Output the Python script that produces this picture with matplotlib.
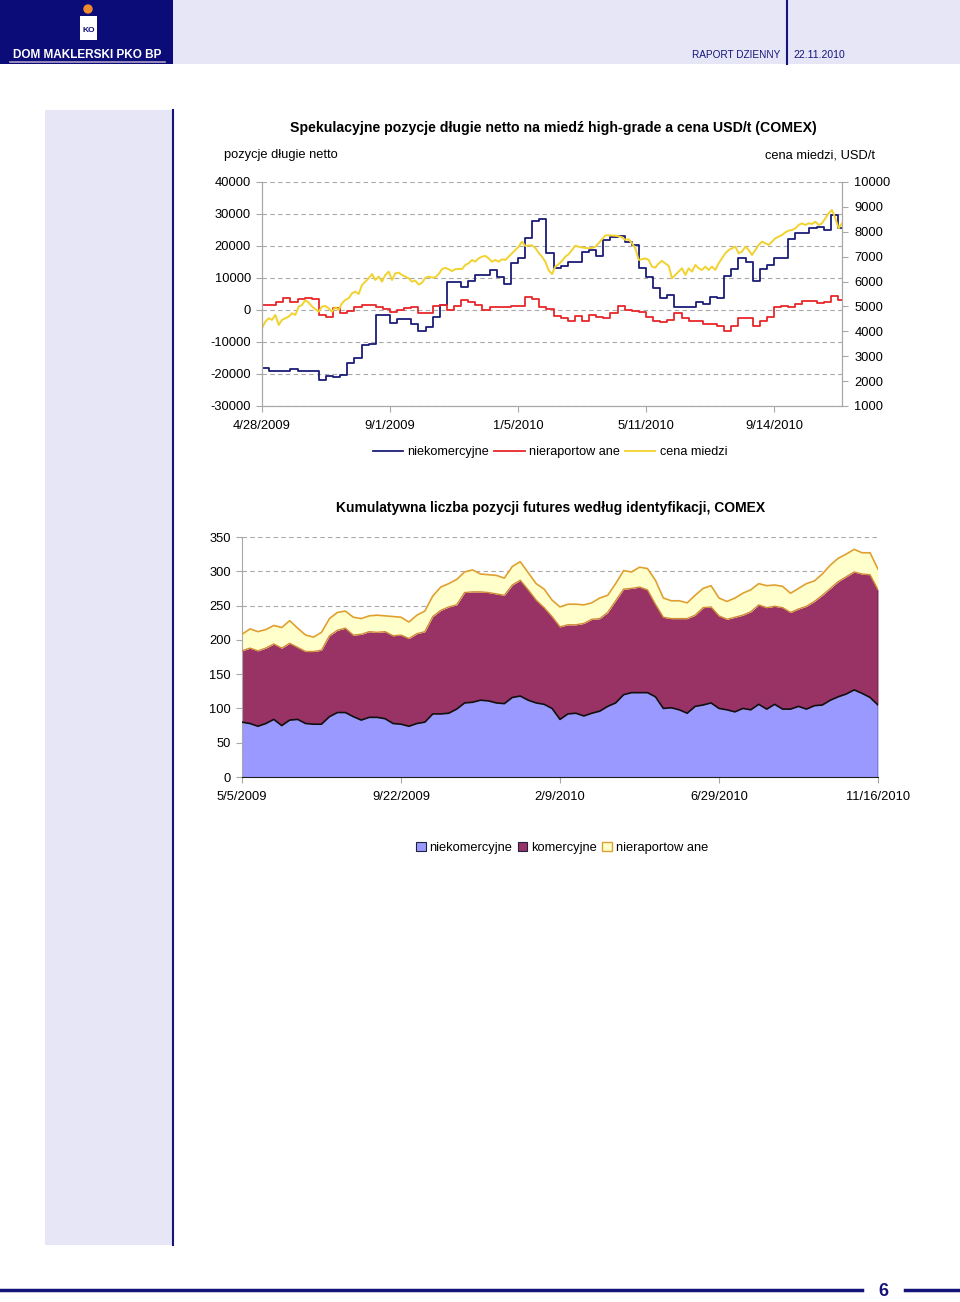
import matplotlib
matplotlib.use("Agg")
import matplotlib.pyplot as plt
import numpy as np
import pandas as pd
from matplotlib.lines import Line2D
from matplotlib.patches import Rectangle, Circle, Patch

plt.rcParams['font.family'] = ['Liberation Sans', 'DejaVu Sans']
plt.rcParams['axes.unicode_minus'] = False

# ---- chart 1: net long positions (weekly, from 28 Apr 2009) and copper price ----
week_start = "2009-04-28"
niekomercyjne_netto = [
    -18000, -19000, -19000, -19000, -18500, -19000, -19000, -19000, -21900, -20500,
    -21000, -20300, -16500, -14900, -11000, -10700, -1600, -1600, -4000, -2800,
    -2800, -4400, -6600, -5200, -2300, 1600, 8900, 8900, 7100, 9000,
    10800, 10800, 12400, 10200, 8100, 14600, 16100, 22400, 27900, 28300,
    17900, 13000, 13600, 15100, 15100, 18200, 18600, 17000, 21900, 22700,
    23100, 21400, 20300, 13000, 10200, 6800, 3600, 4700, 1000, 1000,
    1000, 2600, 1900, 4000, 3600, 10600, 12800, 16100, 15100, 9100,
    12700, 14100, 16100, 16400, 22100, 24000, 24000, 25500, 26000, 25000,
    29700, 25500]
nieraportowane_netto = [
    1600, 1600, 2600, 3600, 2600, 3300, 3600, 3300, -1600, -2100,
    500, -800, -300, 800, 1600, 1600, 800, 200, -500, 0,
    500, 1000, -800, -800, 1200, 1600, 0, 1200, 3100, 2600,
    1600, 0, 1000, 1000, 1000, 1200, 1200, 4200, 3300, 1000,
    200, -1900, -2600, -3300, -1900, -3300, -1600, -2300, -2600, -1000,
    1200, 0, -200, -500, -2100, -3300, -3800, -3100, -1000, -2600,
    -3300, -3300, -4400, -4400, -5000, -6600, -5000, -2600, -2600, -5000,
    -3300, -2100, 800, 1200, 1000, 1900, 2800, 2800, 2100, 2600,
    4500, 3100]
# copper price USD/t, about every 3 days from 28 Apr 2009 to 20 Nov 2010
price_end = "2010-11-20"
cena_miedzi = [
    4124, 4390, 4525, 4460, 4660, 4257, 4460, 4525, 4590, 4726,
    4660, 4993, 5060, 5250, 5150, 5000, 4890, 4790, 4993, 5020,
    4926, 4790, 4970, 4860, 5127, 5261, 5328, 5529, 5595, 5500,
    5863, 5997, 6131, 6300, 6064, 6198, 5997, 6265, 6400, 6064,
    6332, 6359, 6265, 6198, 6131, 5997, 6037, 5880, 5950, 6150,
    6200, 6160, 6170, 6300, 6500, 6550, 6500, 6420,
    6500, 6510, 6500, 6667, 6734, 6867, 6800, 6935, 7000, 7030,
    6935, 6800, 6867, 6800, 6895, 6867, 7000, 7135, 7269, 7403,
    7604, 7430, 7450, 7450, 7350, 7150, 7000, 6800, 6450, 6300,
    6600, 6700, 6830, 7000, 7100, 7270, 7440, 7400, 7370, 7350,
    7340, 7350, 7400, 7540, 7700, 7850, 7860, 7850, 7840, 7820,
    7780,
    7670, 7697, 7537, 7336, 6870, 6900, 6930, 6870, 6600, 6560,
    6730, 6830, 6730, 6630, 6131, 6265, 6398, 6533, 6265, 6533,
    6398, 6667, 6533, 6466, 6600, 6466, 6600, 6466, 6734, 6935,
    7135, 7269, 7336, 7403, 7135, 7202, 7403, 7269, 7067, 7269,
    7470, 7604, 7537, 7470, 7604, 7738, 7805, 7870, 7979, 8046,
    8072, 8139, 8273, 8340, 8273, 8340, 8313, 8407, 8273, 8340,
    8541, 8742, 8876, 8541, 8139, 8340]

# ---- chart 2: cumulative number of futures positions (weekly, from 5 May 2009) ----
stack_start = "2009-05-05"
niekomercyjne = [
    80, 78, 74, 78, 84, 75, 83, 84, 78, 77, 77, 88, 94, 94, 88, 83, 87, 87, 85, 78,
    77, 74, 78, 80, 92, 92, 93, 99, 108, 109, 112, 111, 108, 107, 116, 118, 112, 108, 106, 100,
    84, 92, 93, 89, 93, 96, 103, 108, 120, 123, 123, 123, 117, 100, 101, 98, 93, 103, 105, 108,
    100, 98, 95, 100, 98, 106, 99, 106, 99, 99, 103, 99, 104, 105, 112, 117, 121, 127, 122, 116,
    105]
komercyjne = [
    104, 110, 110, 110, 110, 113, 112, 105, 105, 106, 108, 118, 120, 123, 119, 125, 125, 124, 127, 128,
    130, 128, 131, 132, 142, 151, 155, 152, 161, 161, 158, 158, 159, 158, 164, 169, 161, 150, 141, 134,
    135, 130, 129, 135, 137, 135, 137, 149, 154, 152, 154, 150, 135, 133, 130, 133, 138, 133, 142, 140,
    135, 132, 138, 136, 143, 145, 148, 143, 148, 141, 142, 150, 152, 160, 163, 168, 171, 172, 174, 179,
    168]
nieraportowane = [
    24, 28, 28, 27, 27, 30, 33, 28, 24, 21, 26, 25, 26, 25, 26, 23, 23, 25, 23, 28,
    26, 24, 27, 30, 30, 34, 34, 37, 30, 32, 26, 26, 27, 25, 27, 27, 25, 24, 27, 24,
    29, 30, 30, 27, 24, 30, 25, 25, 27, 24, 29, 31, 35, 28, 26, 26, 23, 29, 28, 31,
    26, 26, 28, 32, 32, 31, 32, 31, 31, 28, 30, 33, 30, 31, 34, 34, 33, 33, 31, 32,
    30]

NAVY = '#14147a'
LAVENDER = '#e6e6f7'
GRID = '#a8a8a8'

fig = plt.figure(figsize=(9.6, 13.02), dpi=100)

# page decoration in pixel coordinates
bg = fig.add_axes([0, 0, 1, 1], zorder=-5)
bg.set_xlim(0, 960)
bg.set_ylim(1302, 0)
bg.axis('off')
bg.add_patch(Rectangle((0, 0), 960, 64, color=LAVENDER, lw=0))
bg.add_patch(Rectangle((0, 0), 173, 64, color='#0c0c78', lw=0))
bg.add_patch(Circle((88, 9), 4, color='#f08a30'))
bg.add_patch(Rectangle((80, 16), 17, 24, color='white', lw=0))
bg.text(88.5, 31, 'KO', color='#0c0c78', fontsize=6, fontweight='bold', ha='center', va='center')
bg.text(87, 55, 'DOM MAKLERSKI PKO BP', color='white', fontsize=8.5, fontweight='bold',
        ha='center', va='center')
bg.plot([10, 165], [62, 62], color='#b0a0c8', lw=1.2)
bg.plot([787, 787], [0, 64], color=NAVY, lw=1.5)
bg.text(780, 55, 'RAPORT DZIENNY', color=NAVY, fontsize=7.2, ha='right', va='center')
bg.text(793, 55, '22.11.2010', color=NAVY, fontsize=7.5, ha='left', va='center')
bg.add_patch(Rectangle((45, 110), 128, 1135, color=LAVENDER, lw=0))
bg.plot([173, 173], [110, 1245], color=NAVY, lw=1.5)
bg.plot([0, 862], [1290, 1290], color=NAVY, lw=2.5)
bg.plot([905, 960], [1290, 1290], color=NAVY, lw=2.5)
bg.text(883, 1291, '6', color=NAVY, fontsize=13, fontweight='bold', ha='center', va='center')


def date_label(d):
    return f"{d.month}/{d.day}/{d.year}"


# ---------------- chart 1 ----------------
ax1 = fig.add_axes([262 / 960, 1 - 406 / 1302, 580 / 960, 224 / 1302])
ax2 = ax1.twinx()

weeks = pd.date_range(week_start, periods=len(niekomercyjne_netto), freq='7D')
x_end = pd.Timestamp(price_end)
step_dates = list(weeks) + [x_end]
ax1.plot(step_dates, niekomercyjne_netto + [niekomercyjne_netto[-1]], drawstyle='steps-post',
         color='#1c1c78', lw=1.3)
ax1.plot(step_dates, nieraportowane_netto + [nieraportowane_netto[-1]], drawstyle='steps-post',
         color='#e8262b', lw=1.3)
price_dates = pd.date_range(week_start, price_end, periods=len(cena_miedzi))
ax2.plot(price_dates, cena_miedzi, color='#f2d22e', lw=1.4)

ax1.set_xlim(pd.Timestamp(week_start), x_end)
ax1.set_ylim(-30000, 40000)
ax1.set_yticks(range(-30000, 40001, 10000))
ax2.set_ylim(1000, 10000)
ax2.set_yticks(range(1000, 10001, 1000))
xt1 = pd.date_range(week_start, periods=5, freq='126D')
ax1.set_xticks(xt1)
ax1.set_xticklabels([date_label(d) for d in xt1])
ax1.yaxis.grid(True, color=GRID, ls=(0, (4, 3)), lw=0.8)
ax1.set_axisbelow(True)
for a in (ax1, ax2):
    for s in a.spines.values():
        s.set_color(GRID)
    a.spines['top'].set_visible(False)
    a.tick_params(colors=GRID, labelcolor='black', labelsize=9.3, length=4, width=0.8)
ax1.tick_params(axis='y', pad=4)
ax1.tick_params(axis='x', pad=6)
ax2.tick_params(axis='y', pad=5)

fig.text(553 / 960, 1 - 128 / 1302, 'Spekulacyjne pozycje długie netto na miedź high-grade a cena USD/t (COMEX)',
         ha='center', va='center', fontsize=10.2, fontweight='bold')
fig.text(224 / 960, 1 - 155 / 1302, 'pozycje długie netto', ha='left', va='center', fontsize=9.3)
fig.text(875 / 960, 1 - 156 / 1302, 'cena miedzi, USD/t', ha='right', va='center', fontsize=9.3)

h1 = [Line2D([], [], color='#1c1c78', lw=1.3),
      Line2D([], [], color='#e8262b', lw=1.3),
      Line2D([], [], color='#f2d22e', lw=1.3)]
fig.legend(h1, ['niekomercyjne', 'nieraportow ane', 'cena miedzi'], loc='center',
           bbox_to_anchor=(550 / 960, 1 - 452 / 1302), ncol=3, frameon=False, fontsize=9.1,
           handlelength=2.4, handletextpad=0.35, columnspacing=0.4)

# ---------------- chart 2 ----------------
ax3 = fig.add_axes([242 / 960, 1 - 777 / 1302, 636 / 960, 240 / 1302])
d2 = pd.date_range(stack_start, periods=len(niekomercyjne), freq='7D')
b = np.array(niekomercyjne, dtype=float)
k = b + np.array(komercyjne, dtype=float)
n = k + np.array(nieraportowane, dtype=float)
ax3.fill_between(d2, 0, b, color='#9999ff', lw=0, zorder=2)
ax3.fill_between(d2, b, k, color='#993366', lw=0, zorder=2)
ax3.fill_between(d2, k, n, color='#ffffcc', lw=0, zorder=2)
ax3.plot(d2, n, color='#e0a030', lw=1.2, zorder=3)
ax3.plot(d2, k, color='#d08a38', lw=1.0, zorder=3)
ax3.plot(d2, b, color='#101010', lw=1.2, zorder=3)
ax3.plot([d2[-1], d2[-1]], [0, k[-1]], color='#101010', lw=1.0, zorder=3)

ax3.set_xlim(d2[0], d2[-1])
ax3.set_ylim(0, 350)
ax3.set_yticks(range(0, 351, 50))
xt2 = pd.date_range(stack_start, periods=5, freq='140D')
ax3.set_xticks(xt2)
ax3.set_xticklabels([date_label(d) for d in xt2])
ax3.yaxis.grid(True, color=GRID, ls=(0, (4, 3)), lw=0.8, zorder=0)
ax3.set_axisbelow(True)
for s in ('top', 'right'):
    ax3.spines[s].set_visible(False)
ax3.spines['left'].set_color(GRID)
ax3.spines['bottom'].set_color('#202020')
ax3.spines['bottom'].set_zorder(4)
ax3.tick_params(colors=GRID, labelcolor='black', labelsize=9.3, length=4, width=0.8)
ax3.tick_params(axis='y', pad=4)
ax3.tick_params(axis='x', pad=6)

fig.text(551 / 960, 1 - 508 / 1302, 'Kumulatywna liczba pozycji futures według identyfikacji, COMEX',
         ha='center', va='center', fontsize=10.0, fontweight='bold')

h2 = [Patch(facecolor='#9999ff', edgecolor='#202040', lw=0.8),
      Patch(facecolor='#993366', edgecolor='#202040', lw=0.8),
      Patch(facecolor='#ffffcc', edgecolor='#e0a030', lw=1.0)]
fig.legend(h2, ['niekomercyjne', 'komercyjne', 'nieraportow ane'], loc='center',
           bbox_to_anchor=(562 / 960, 1 - 848 / 1302), ncol=3, frameon=False, fontsize=9.3,
           handlelength=0.75, handleheight=0.75, handletextpad=0.3, columnspacing=0.4)

fig.savefig('out.png', dpi=100)
